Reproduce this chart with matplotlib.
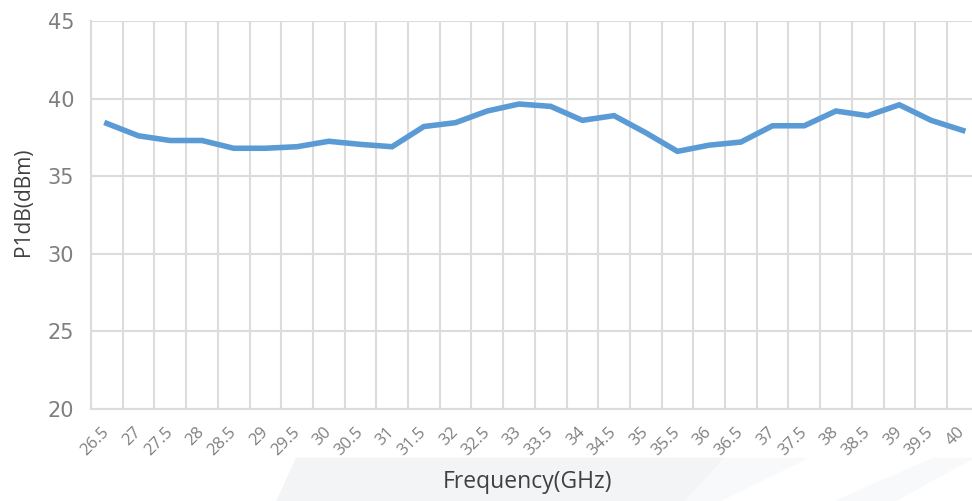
import numpy as np
import matplotlib.pyplot as plt
import matplotlib.transforms as mtransforms
from matplotlib.patches import Polygon

# Frequency points (GHz) and measured P1dB (dBm)
freq = ["26.5", "27", "27.5", "28", "28.5", "29", "29.5", "30", "30.5", "31",
        "31.5", "32", "32.5", "33", "33.5", "34", "34.5", "35", "35.5", "36",
        "36.5", "37", "37.5", "38", "38.5", "39", "39.5", "40"]
p1db = [38.4, 37.6, 37.3, 37.3, 36.8, 36.8, 36.9, 37.25, 37.05, 36.9,
        38.2, 38.45, 39.2, 39.65, 39.5, 38.6, 38.9, 37.8, 36.6, 37.0,
        37.2, 38.25, 38.25, 39.2, 38.9, 39.6, 38.6, 37.95]
y_ticks = [20, 25, 30, 35, 40, 45]

grid_col = "#dcdcdc"
tick_col = "#7f7f7f"
label_col = "#404040"
line_col = "#5b9bd5"

fig = plt.figure(figsize=(9.72, 5.01), dpi=100)

# faint watermark shapes in the background (kept under the axes)
wm = "#f3f4f6"
fig.patches.append(Polygon([[0.285, 0.0], [0.705, 0.0], [0.745, 0.085], [0.305, 0.085]],
                           closed=True, transform=fig.transFigure, color=wm, zorder=-1))
fig.patches.append(Polygon([[0.705, 0.0], [0.74, 0.0], [0.83, 0.085], [0.745, 0.085]],
                           closed=True, transform=fig.transFigure, color="#f8f9fa", zorder=-1))
fig.patches.append(Polygon([[0.86, 0.0], [0.92, 0.0], [1.0, 0.085], [0.96, 0.085]],
                           closed=True, transform=fig.transFigure, color="#f8f9fa", zorder=-1))

ax = fig.add_axes([91 / 972, 92 / 501, 887.6 / 972, 388 / 501])
ax.patch.set_alpha(0)

x = np.arange(len(freq))
ax.plot(x, p1db, color=line_col, linewidth=4.0, solid_joinstyle="miter", zorder=3)

ax.set_xlim(-0.5, len(freq) - 0.5)
ax.set_ylim(20, 45)
ax.set_yticks(y_ticks)
ax.set_yticklabels([str(v) for v in y_ticks], fontsize=15, color=tick_col,
                   family=["Liberation Sans Narrow", "DejaVu Sans"])

# vertical grid lines sit between categories, labels at the category centre
ax.set_xticks(x)
ax.set_xticklabels(freq, rotation=45, ha="right", rotation_mode="anchor",
                   fontsize=12, color=tick_col, family="Open Sans")
ax.set_xticks(np.arange(len(freq) + 1) - 0.5, minor=True)
ax.tick_params(axis="x", which="both", length=0, pad=11)
ax.tick_params(axis="y", length=0, pad=12)
shift = mtransforms.ScaledTranslation(-4 / 72, 0, fig.dpi_scale_trans)
for lbl in ax.get_xticklabels():
    lbl.set_transform(lbl.get_transform() + shift)

ax.grid(True, axis="y", color=grid_col, linewidth=1.5)
ax.grid(True, axis="x", which="minor", color=grid_col, linewidth=1.5)
ax.grid(False, axis="x", which="major")
ax.set_axisbelow(True)
for s in ["top", "right"]:
    ax.spines[s].set_visible(False)
for s in ["left", "bottom"]:
    ax.spines[s].set_color(grid_col)
    ax.spines[s].set_linewidth(1.5)

ax.set_ylabel("P1dB(dBm)", fontsize=15, color=label_col, family="Open Sans")
ax.yaxis.set_label_coords(-0.064, 0.535)
ax.set_xlabel("Frequency(GHz)", fontsize=16.5, color=label_col, family="Open Sans")
ax.xaxis.set_label_coords(0.492, -0.158)

fig.savefig("out.png", dpi=100)
